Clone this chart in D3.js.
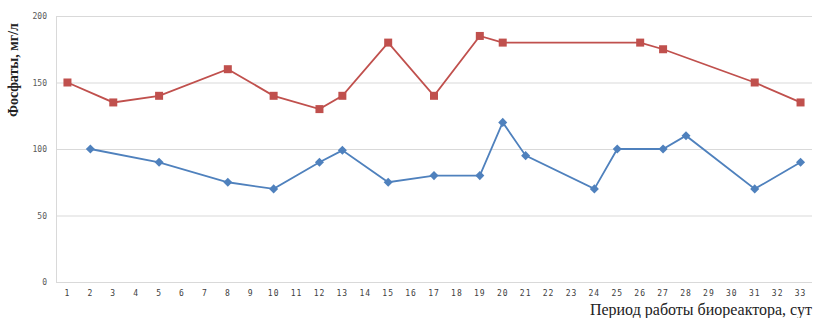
<!DOCTYPE html>
<html>
<head>
<meta charset="utf-8">
<script src="https://cdn.jsdelivr.net/npm/d3@7"></script>
<style>
  body { margin: 0; background: #fff; }
  svg { display: block; }
</style>
</head>
<body>
<div id="chart"></div>
<script>
// days of bioreactor operation
const days = d3.range(1, 34);
// phosphate, mg/l (null = no measurement that day)
const seriesRed = [150, null, 135, null, 140, null, null, 160, null, 140, null, 130, 140, null, 180, null, 140, null, 185, 180,
  null, null, null, null, null, 180, 175, null, null, null, 150, null, 135];
const seriesBlue = [null, 100, null, null, 90, null, null, 75, null, 70, null, 90, 99, null, 75, null, 80, null, 80, 120,
  95, null, null, 70, 100, null, 100, 110, null, null, 70, null, 90];
const yTicks = [0, 50, 100, 150, 200];

const width = 820, height = 318;
const margin = { top: 16, right: 8, bottom: 36, left: 56 };

const svg = d3.select('#chart').append('svg')
  .attr('width', width)
  .attr('height', height);

const x = d3.scaleBand()
  .domain(days)
  .range([margin.left, width - margin.right]);

const y = d3.scaleLinear()
  .domain([0, 200])
  .range([height - margin.bottom, margin.top]);

// horizontal grid
svg.append('g')
  .selectAll('line')
  .data(yTicks)
  .enter()
  .append('line')
  .attr('x1', margin.left)
  .attr('x2', width - margin.right)
  .attr('y1', d => y(d) + 0.5)
  .attr('y2', d => y(d) + 0.5)
  .attr('stroke', '#d9d9d9');

// vertical axis line
svg.append('line')
  .attr('x1', margin.left + 0.5)
  .attr('x2', margin.left + 0.5)
  .attr('y1', y(200))
  .attr('y2', y(0))
  .attr('stroke', '#d9d9d9');

// y tick labels
const yAxis = svg.append('g')
  .attr('transform', 'translate(' + (margin.left - 9) + ',0)')
  .call(d3.axisLeft(y).tickValues(yTicks).tickSize(0).tickPadding(0));
yAxis.select('.domain').remove();
yAxis.selectAll('text')
  .attr('fill', '#595959')
  .style('font-family', 'DejaVu Sans Mono, monospace')
  .style('font-size', '8px');

// x tick labels
const xAxis = svg.append('g')
  .attr('transform', 'translate(0,' + (y(0) + 8) + ')')
  .call(d3.axisBottom(x).tickSize(0).tickPadding(0));
xAxis.select('.domain').remove();
xAxis.selectAll('text')
  .attr('fill', '#404040')
  .style('font-family', 'DejaVu Sans Mono, monospace')
  .style('font-size', '8px')
  .style('letter-spacing', '1px');

const cx = (d) => x(d.day) + x.bandwidth() / 2;
const line = d3.line()
  .x(cx)
  .y(d => y(d.value));

const toPoints = (values) => days
  .map((day, i) => ({ day: day, value: values[i] }))
  .filter(d => d.value !== null);

const red = toPoints(seriesRed);
const blue = toPoints(seriesBlue);

// blue series, diamonds (rotated squares)
svg.append('path')
  .datum(blue)
  .attr('d', line)
  .attr('fill', 'none')
  .attr('stroke', '#4f81bd')
  .attr('stroke-width', 1.8);
svg.append('g')
  .selectAll('rect')
  .data(blue)
  .enter()
  .append('rect')
  .attr('x', -3.2)
  .attr('y', -3.2)
  .attr('width', 6.4)
  .attr('height', 6.4)
  .attr('transform', d => 'translate(' + cx(d) + ',' + y(d.value) + ') rotate(45)')
  .attr('fill', '#4f81bd');

// red series, squares
svg.append('path')
  .datum(red)
  .attr('d', line)
  .attr('fill', 'none')
  .attr('stroke', '#c0504d')
  .attr('stroke-width', 1.8);
svg.append('g')
  .selectAll('rect')
  .data(red)
  .enter()
  .append('rect')
  .attr('x', d => cx(d) - 4)
  .attr('y', d => y(d.value) - 4)
  .attr('width', 8)
  .attr('height', 8)
  .attr('fill', '#c0504d');

// axis titles
svg.append('text')
  .attr('transform', 'translate(18,70) rotate(-90)')
  .attr('text-anchor', 'middle')
  .style('font-family', 'Liberation Serif, serif')
  .style('font-size', '14px')
  .style('font-weight', 'bold')
  .attr('fill', '#222')
  .text('Фосфаты, мг/л');

svg.append('text')
  .attr('x', width - 8)
  .attr('y', 315)
  .attr('text-anchor', 'end')
  .style('font-family', 'Liberation Serif, serif')
  .style('font-size', '16px')
  .attr('fill', '#222')
  .text('Период работы биореактора, сут');
</script>
</body>
</html>
